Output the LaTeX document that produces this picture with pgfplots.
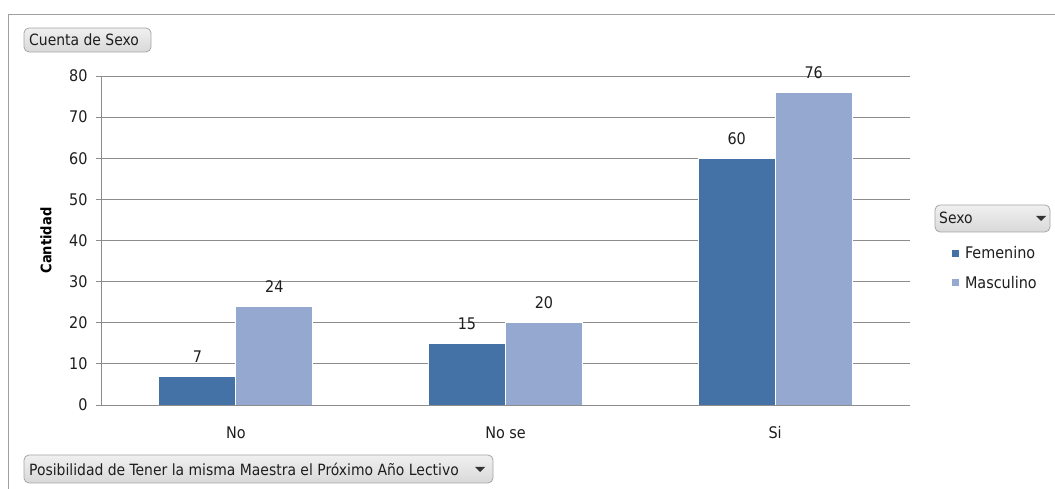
\documentclass[border=0pt]{standalone}
\usepackage{fontspec}
\setmainfont{DejaVu Sans Condensed}
\usepackage{pgfplots}
\pgfplotsset{compat=1.18}
\definecolor{fem}{RGB}{68,114,167}
\definecolor{mas}{RGB}{149,169,208}
\definecolor{gridc}{RGB}{140,140,140}
\definecolor{txt}{RGB}{30,30,30}
\tikzset{btn/.style={rounded corners=5pt, draw=gray!70, top color=gray!12, bottom color=gray!30, line width=0.8pt}}

\begin{document}
\begin{tikzpicture}[x=1pt,y=1pt]
\useasboundingbox (0,0) rectangle (1055,489);
\fill[white] (0,0) rectangle (1055,489);
\draw[gray!75, line width=1pt] (8.5,0) -- (8.5,474) -- (1055,474);

\begin{axis}[
    at={(101pt,84pt)}, anchor=south west, scale only axis,
    width=809pt, height=329pt,
    /pgf/number format/assume math mode=true,
    ybar=0pt, bar width=77pt,
    xmin=-0.5, xmax=2.5,
    ymin=0, ymax=80, ytick={0,10,...,80},
    xtick={0,1,2}, xticklabels={No, No se, Si},
    axis x line*=bottom, axis y line*=left,
    axis line style={gridc, line width=0.8pt},
    ymajorgrids, major grid style={gridc, line width=0.8pt},
    xtick style={draw=none},
    ytick style={gridc, line width=0.8pt},
    tick align=outside, major tick length=5pt,
    tick label style={font=\fontsize{16}{18}\selectfont, text=txt},
    xticklabel style={yshift=-13pt},
    yticklabel style={xshift=-5pt},
    ylabel={Cantidad},
    ylabel style={at={(axis description cs:-0.068,0.5)}, anchor=center, font=\fontsize{14.5}{16}\selectfont\bfseries, text=black},
    nodes near coords,
    every node near coord/.append style={font=\fontsize{16}{18}\selectfont, text=txt, yshift=10pt},
    legend style={at={(rel axis cs:1.047,0.495)}, anchor=north west, draw=none, fill=none,
        font=\fontsize{16}{18}\selectfont, text=txt, row sep=12pt,
        /tikz/nodes={inner xsep=5pt}},
    legend cell align=left,
    legend image code/.code={\fill[#1] (0pt,-4pt) rectangle (8pt,4pt);},
]
\addplot[fill=fem, draw=white, line width=0.8pt] coordinates {(0,7) (1,15) (2,60)};
\addlegendentry{Femenino}
\addplot[fill=mas, draw=white, line width=0.8pt] coordinates {(0,24) (1,20) (2,76)};
\addlegendentry{Masculino}
\end{axis}

% field buttons
\draw[btn] (24,437) rectangle (151,461);
\node[anchor=west, text=txt, font=\fontsize{15.5}{17}\selectfont, inner sep=0pt] at (29,449) {Cuenta de Sexo};

\draw[btn] (935,257) rectangle (1050,284);
\node[anchor=west, text=txt, font=\fontsize{15.5}{17}\selectfont, inner sep=0pt] at (939,271) {Sexo};
\fill[black!80] (1036,273) -- (1046,273) -- (1041,268) -- cycle;

\draw[btn] (24,6) rectangle (493,34);
\node[anchor=west, text=txt, font=\fontsize{15.5}{17}\selectfont, inner sep=0pt] at (29,20) {Posibilidad de Tener la misma Maestra el Próximo Año Lectivo};
\fill[black!80] (475,22) -- (485,22) -- (480,17) -- cycle;
\end{tikzpicture}
\end{document}
